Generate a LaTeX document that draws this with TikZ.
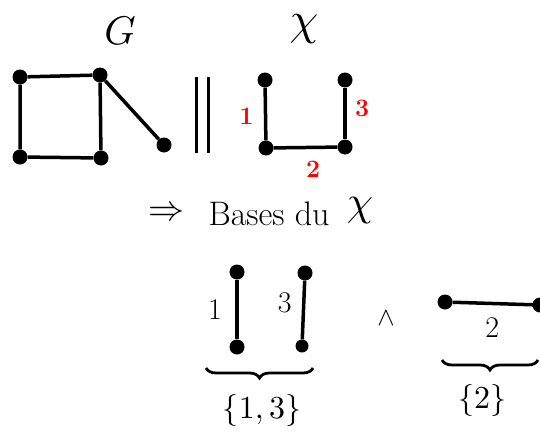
\documentclass[tikz,border=0pt]{standalone}
\usepackage{fontspec}
\usepackage{graphicx}
\usetikzlibrary{decorations.pathreplacing}
\begin{document}
\begin{tikzpicture}[x=1pt,y=-1pt,
  vtx/.style={circle,fill=black,inner sep=0pt,minimum size=15pt},
  svtx/.style={circle,fill=black,inner sep=0pt,minimum size=13pt},
  edge/.style={line width=3.5pt},
  redlab/.style={text=red,font=\bfseries\fontsize{25}{25}\selectfont},
  blab/.style={font=\fontsize{30}{30}\selectfont},
  brc/.style={decorate,decoration={brace,mirror,amplitude=10pt},line width=2.8pt}]
\useasboundingbox (0,0) rectangle (540,431);
% titles
\node[inner sep=0pt] (tG) at (120,31) {\scalebox{4}{$G$}};
\node[inner sep=0pt] (tX) at (304,29) {\scalebox{4.6}{$\chi$}};
% graph G
\node[vtx] (g1) at (20,77) {};
\node[vtx] (g2) at (100,75) {};
\node[vtx] (g3) at (20,157) {};
\node[vtx] (g4) at (101,158) {};
\node[vtx] (g5) at (164,145) {};
\draw[edge] (g1)--(g2) (g2)--(g4) (g4)--(g3) (g3)--(g1) (g2)--(g5);
% ||
\coordinate (p1a) at (196,77); \coordinate (p1b) at (196,153);
\coordinate (p2a) at (208,77); \coordinate (p2b) at (208,153);
\draw[line width=3pt] (p1a)--(p1b) (p2a)--(p2b);
% matroid X
\node[vtx] (x1) at (265,80) {};
\node[vtx] (x2) at (345,80) {};
\node[vtx] (x3) at (266,148) {};
\node[vtx] (x4) at (345,147) {};
\draw[edge] (x1)--(x3) node[redlab,pos=0.55,left=7pt] {1};
\draw[edge] (x2)--(x4) node[redlab,pos=0.4,right=5pt] {3};
\draw[edge] (x3)--(x4) node[redlab,pos=0.62,below=9pt] {2};
% Bases
\node[inner sep=0pt] (imp) at (166,214) {\scalebox{3.6}{$\Rightarrow$}};
\node[font=\fontsize{34}{34}\selectfont,anchor=base west] (bases) at (205,225) {Bases du};
\node[inner sep=0pt] (bX) at (360,211) {\scalebox{4.2}{$\chi$}};
% bottom left
\node[vtx] (b1) at (237,272) {};
\node[vtx] (b2) at (237,347) {};
\node[vtx] (b3) at (305,273) {};
\node[svtx] (b4) at (302,346) {};
\draw[edge] (b1)--(b2) node[blab,midway,left=10pt] {1};
\draw[edge] (b3)--(b4) node[blab,pos=0.38,left=7pt] {3};
\coordinate (brL1) at (206,368); \coordinate (brL2) at (313,368);
\draw[brc] (brL1)--(brL2);
\node (s13) at (262,410) {\scalebox{3.2}{$\{1,3\}$}};
% wedge
\node (wedge) at (386,318) {\scalebox{2.6}{$\wedge$}};
% bottom right
\node[vtx] (r1) at (445,302) {};
\coordinate (r2) at (540,305);
\draw[edge] (r1)--(r2) node[blab,midway,below=9pt,xshift=-4pt] {2};
\fill (r2) circle (7.5pt);
\coordinate (brR1) at (442,360); \coordinate (brR2) at (538,360);
\draw[brc] (brR1)--(brR2);
\node (s2) at (482,400) {\scalebox{3.2}{$\{2\}$}};
\end{tikzpicture}
\end{document}
